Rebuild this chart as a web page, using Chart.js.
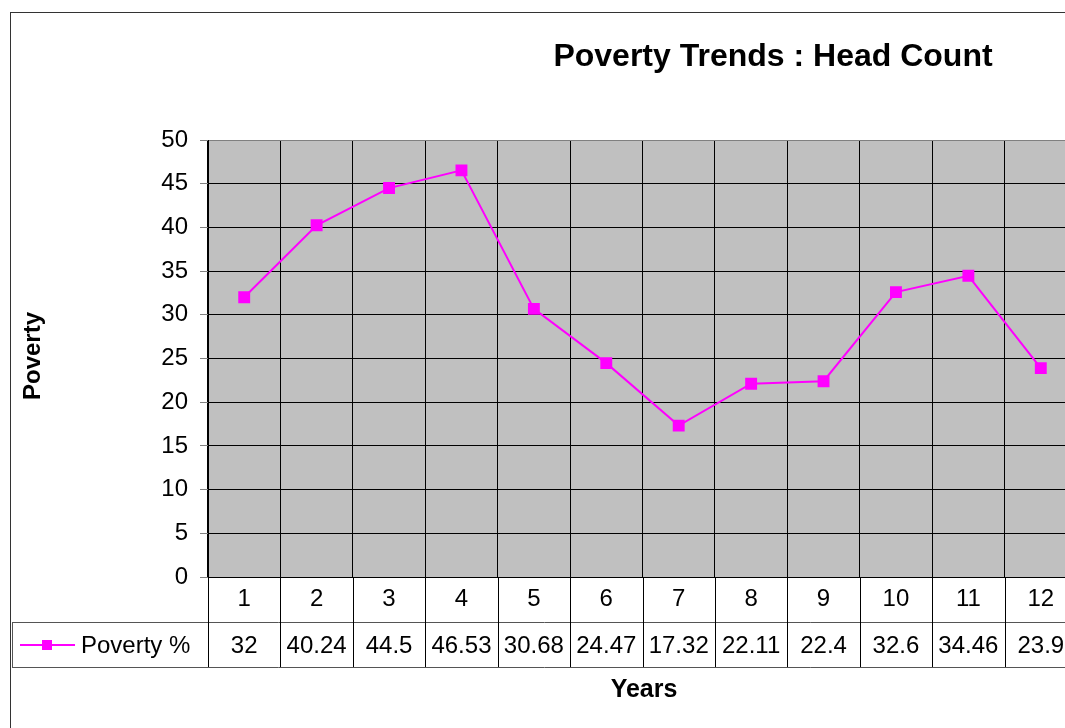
<!DOCTYPE html>
<html>
<head>
<meta charset="utf-8">
<title>Poverty Trends : Head Count</title>
<script src="https://cdn.jsdelivr.net/npm/chart.js@4"></script>
<style>
  html, body { margin: 0; padding: 0; background: #fff; overflow: hidden; }
  #wrap { width: 1065px; height: 728px; overflow: hidden; }
</style>
</head>
<body>
<div id="wrap"><canvas id="povertyChart" width="1086" height="728"></canvas></div>
<script>
const years = ['1', '2', '3', '4', '5', '6', '7', '8', '9', '10', '11', '12'];
const povertyPct = [32, 40.24, 44.5, 46.53, 30.68, 24.47, 17.32, 22.11, 22.4, 32.6, 34.46, 23.9];
const seriesName = 'Poverty %';
const chartTitle = 'Poverty Trends : Head Count';

const FONT = '"Liberation Sans", Arial, sans-serif';
const MAGENTA = '#FF00FF';

// excel-like frame, title, axis titles and data table under the plot
const excelBits = {
    id: 'excelBits',
    beforeDraw(chart) {
        const { ctx, chartArea: a } = chart;
        ctx.save();
        ctx.fillStyle = '#C0C0C0';
        ctx.fillRect(a.left, a.top, a.right - a.left, a.bottom - a.top);
        ctx.restore();
    },
    afterDraw(chart) {
        const { ctx, chartArea: a } = chart;
        const x = chart.scales.x;
        const colW = (x.right - x.left) / years.length;
        const rowTop = 622, rowBot = 667, rowMid = 645;

        ctx.save();
        // outer border
        ctx.strokeStyle = '#333';
        ctx.lineWidth = 1;
        ctx.strokeRect(10.5, 12.5, 2000, 2000);

        // table lines
        ctx.strokeStyle = '#555';
        ctx.beginPath();
        ctx.moveTo(12, rowTop + 0.5); ctx.lineTo(x.right, rowTop + 0.5);
        ctx.moveTo(12, rowBot + 0.5); ctx.lineTo(x.right, rowBot + 0.5);
        ctx.moveTo(12.5, rowTop); ctx.lineTo(12.5, rowBot);
        ctx.stroke();
        ctx.strokeStyle = '#000';
        ctx.beginPath();
        for (let i = 0; i <= years.length; i++) {
            const px = Math.round(x.left + i * colW) + 0.5;
            ctx.moveTo(px, a.bottom);
            ctx.lineTo(px, rowBot);
        }
        ctx.stroke();

        // legend key
        ctx.strokeStyle = MAGENTA;
        ctx.lineWidth = 2;
        ctx.beginPath();
        ctx.moveTo(20, rowMid); ctx.lineTo(75, rowMid);
        ctx.stroke();
        ctx.fillStyle = MAGENTA;
        ctx.fillRect(42, rowMid - 5, 10, 10);

        ctx.fillStyle = '#000';
        ctx.font = '24px ' + FONT;
        ctx.textBaseline = 'alphabetic';
        ctx.textAlign = 'left';
        ctx.fillText(seriesName, 81, 653);
        ctx.textAlign = 'center';
        povertyPct.forEach((v, i) => {
            ctx.fillText(String(v), x.getPixelForValue(i), 653);
        });

        // titles
        ctx.font = 'bold 32px ' + FONT;
        ctx.fillText(chartTitle, 773, 66);
        ctx.font = 'bold 25px ' + FONT;
        ctx.fillText('Years', 644, 697);
        ctx.font = 'bold 24px ' + FONT;
        ctx.translate(40, 356);
        ctx.rotate(-Math.PI / 2);
        ctx.fillText('Poverty', 0, 0);
        ctx.restore();
    }
};

new Chart(document.getElementById('povertyChart'), {
    type: 'line',
    data: {
        labels: years,
        datasets: [{
            label: seriesName,
            data: povertyPct,
            borderColor: MAGENTA,
            backgroundColor: MAGENTA,
            borderWidth: 2,
            pointStyle: 'rect',
            pointRadius: 7,
            pointHoverRadius: 7,
            tension: 0,
            fill: false
        }]
    },
    options: {
        responsive: false,
        animation: false,
        layout: { padding: { top: 140, left: 0, right: 4, bottom: 0 } },
        plugins: {
            legend: { display: false },
            title: { display: false },
            tooltip: { enabled: false }
        },
        scales: {
            x: {
                offset: true,
                grid: { offset: true, color: '#000', drawTicks: false },
                border: { color: '#000' },
                ticks: { color: '#000', font: { family: FONT, size: 24 }, padding: 8, maxRotation: 0 },
                afterFit: s => { s.height = 151; }
            },
            y: {
                min: 0,
                max: 50,
                grid: {
                    color: c => (c.tick && c.tick.value === 50 ? '#808080' : '#000'),
                    tickColor: '#808080',
                    tickLength: 8
                },
                border: { color: '#000' },
                ticks: { stepSize: 5, color: '#000', font: { family: FONT, size: 24 }, padding: 12 },
                afterFit: s => { s.width = 208; }
            }
        }
    },
    plugins: [excelBits]
});
</script>
</body>
</html>
